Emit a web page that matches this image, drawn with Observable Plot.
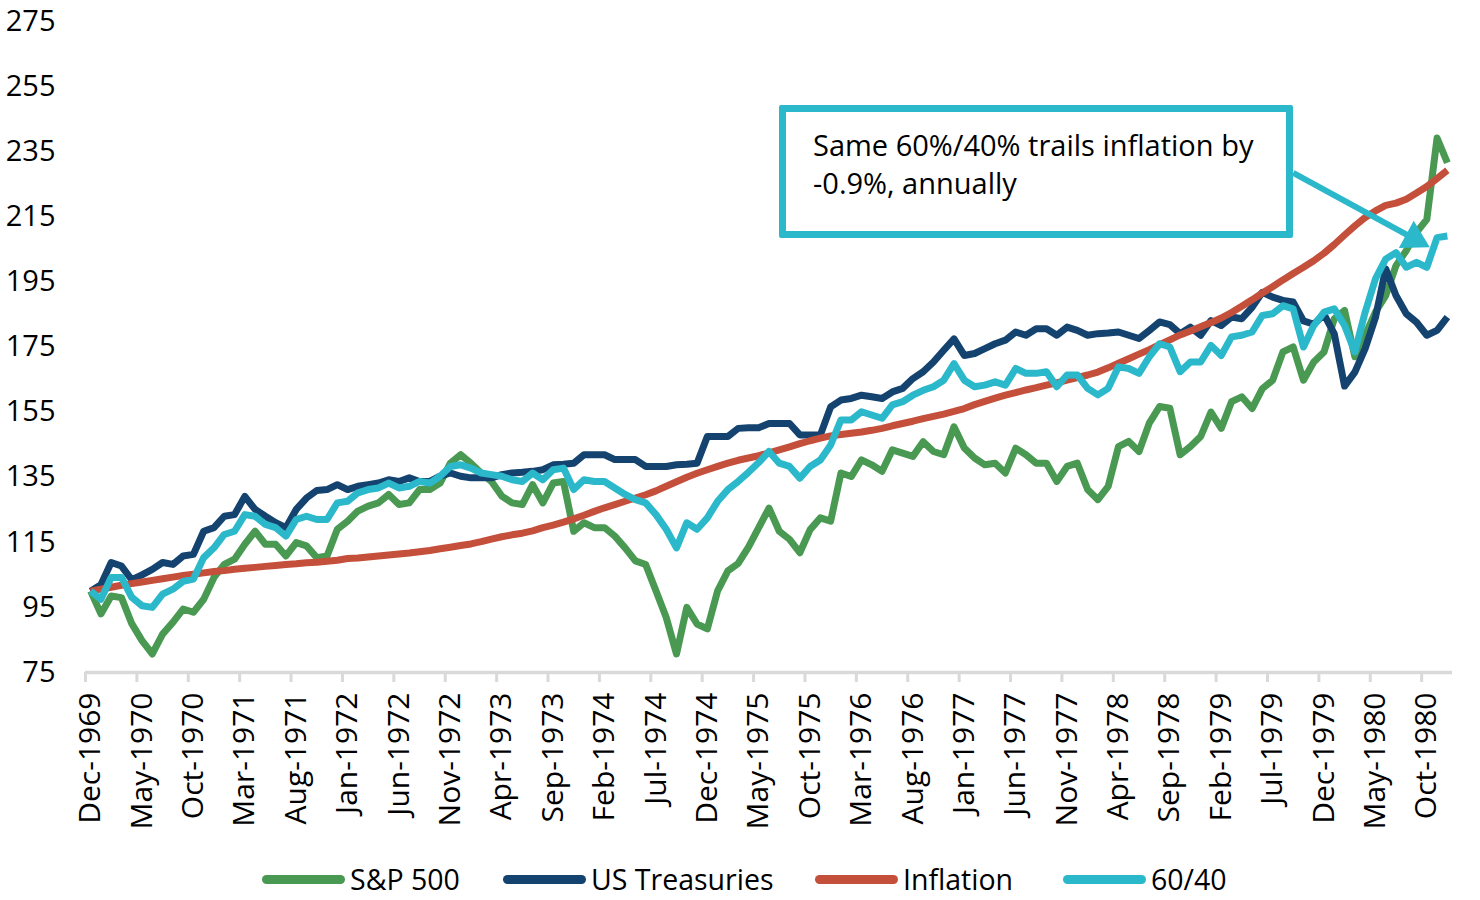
<!DOCTYPE html>
<html><head><meta charset="utf-8">
<script src="https://cdn.jsdelivr.net/npm/d3@7"></script>
<script src="https://cdn.jsdelivr.net/npm/@observablehq/plot@0.6"></script>
<style>
body{margin:0;background:#fff;font-family:"Open Sans",sans-serif;}
#wrap{position:relative;width:1480px;height:900px;}
#note{position:absolute;left:779px;top:105px;width:514px;height:133px;box-sizing:border-box;border:7px solid #2bb8cb;border-radius:2px;background:#fff;padding:14px 0 0 27px;font-size:29px;line-height:38px;color:#000;}
#legend{position:absolute;left:262px;top:859px;display:flex;font-size:28.5px;line-height:40px;color:#000;}
.item{display:flex;align-items:center;white-space:nowrap;}
.item:nth-child(1){width:241px;}
.item:nth-child(2){width:312px;}
.item:nth-child(3){width:248px;}
.sw{width:83px;height:9px;border-radius:5px;margin-right:5px;flex:none;}
</style></head><body>
<div id="wrap"><div id="chart"></div><div id="note"></div><div id="legend"></div></div>
<script>
// Monthly index values, Dec-1969 = 100, through Dec-1980 (133 months)
const sp500 = [100,93,98.5,98,90,84.8,80.7,86.8,90.4,94.5,93.5,97.5,104.2,108.2,109.8,114.4,118.4,114.4,114.4,110.8,
114.9,113.9,110.3,110.8,119,121.5,124.6,126.1,127.1,129.7,126.6,127.1,131.2,131.2,133.2,139.3,141.9,139.3,136.3,133.7,
129.2,127.1,126.6,132.7,127.1,133.2,133.7,118.4,121,119.5,119.5,116.9,113.3,109.3,108.2,100.1,91.9,80.7,95,89.9,
88.4,100.1,106.2,108.5,113.5,119.5,125.5,118.4,115.9,111.8,118.9,122.5,121.5,136.3,135.2,140.3,138.8,136.8,143.4,142.4,
141.4,145.9,142.9,141.9,150.5,144,140.9,138.8,139.3,136.3,143.9,141.9,139.3,139.3,133.7,138.3,139.3,131.2,128.1,132.2,
144.4,146,142.9,151.6,156.7,156.2,141.9,144.4,147.5,155,150,158.2,159.7,156.1,162.2,164.8,173.5,175,164.8,170.4,
173.5,183.7,186.2,172,178.6,185.7,190.8,200,204.6,210.2,214.2,239.2,231.6];
const treasuries = [100,102,108.8,107.7,103.5,105,106.7,108.8,108.2,110.8,111.3,118.4,119.5,123,123.5,129.1,125.1,123,121,119.5,
125.1,128.6,130.9,131.2,132.7,131.2,132.2,132.7,133.2,134.2,133.7,134.8,133.7,133.7,135.3,136.3,135.3,134.8,134.8,134.8,
135.8,136.3,136.5,136.8,137.3,138.8,139,139.3,141.9,141.9,141.9,140.4,140.4,140.4,138.3,138.3,138.3,138.8,139,139.3,
147.5,147.5,147.5,150,150.2,150.2,151.5,151.5,151.5,148,148,148,156.6,158.7,159.2,160.2,159.7,159.2,161.2,162.3,
165.3,167.4,170.4,174,177.5,172.4,173,174.5,176,177.1,179.6,178.6,180.6,180.6,178.6,181.1,180.1,178.6,179.1,179.3,
179.6,178.6,177.6,180.1,182.7,181.9,179.1,181.1,178.6,183.1,181.6,184.2,183.7,187.2,191.8,190.3,189.3,188.8,183,182,
185,179,163,167.3,174.5,184,199,190.8,185.2,182.6,178.6,180.1,184.2];
const inflation = [100,100.6,101.2,101.8,102.3,102.8,103.3,103.8,104.3,104.8,105.2,105.6,106,106.3,106.7,107,107.3,107.6,107.9,108.2,
108.4,108.7,108.9,109.2,109.5,110,110.2,110.5,110.8,111.1,111.4,111.7,112.1,112.5,113,113.5,114,114.5,115.2,116,
116.7,117.3,117.8,118.5,119.5,120.3,121.2,122.2,123.3,124.5,125.6,126.6,127.6,128.6,129.6,130.8,132.2,133.6,135,136.2,
137.3,138.3,139.3,140.2,140.9,141.6,142.5,143.4,144.3,145.3,146.2,147,147.7,148.1,148.5,148.9,149.4,150,150.8,151.5,
152.2,153,153.7,154.4,155.2,156.1,157.3,158.3,159.3,160.2,161,161.8,162.5,163.3,164,164.8,165.6,166.4,167.3,168.6,
170,171.4,172.8,174.2,175.7,177.2,178.7,179.9,181.2,182.5,183.9,185.6,187.5,189.5,191.6,193.5,195.6,197.6,199.5,201.5,
203.8,206.5,209.4,212.2,214.8,216.8,218.5,219.2,220.4,222.3,224.3,226.8,229.3];
const sixtyForty = [100,97.5,104.2,104.2,98.1,95.5,95,99.1,100.6,103,103.7,110.3,113.3,117.4,118.4,123.5,123,120.5,119.5,116.9,
122,123,122,122,127.1,127.6,130.2,131.2,131.7,133.2,131.7,132.2,133.7,133.2,135.3,138.3,138.8,137.8,136.3,135.8,
135.3,134.2,133.7,136.3,134.2,137.3,137.8,131.2,134.2,133.7,133.7,131.7,129.7,128.1,127.1,123.5,119,113.3,121,119,
122.5,127.6,131.2,133.7,136.5,139.5,142.9,139.3,138.3,134.7,138.3,140.3,144.9,152.6,152.6,155.1,154.1,153.1,157.2,158.2,
160.2,161.7,162.8,164.8,169.9,164.8,162.8,163.3,164.3,163.3,168.4,166.9,166.9,167.4,162.8,166.4,166.4,162.3,160.3,162.3,
168.9,168.4,166.9,172,176,175,167.4,170.4,170.4,175.5,172.4,178.1,178.6,179.6,184.7,185.2,187.7,186.7,175,181.6,
185.7,186.7,181.6,173.5,185.7,195.9,202,204,199.5,201,199.5,208.6,209.1];

const seriesNames = ["S&P 500","US Treasuries","Inflation","60/40"];
const seriesColors = ["#4a9953","#14436f","#c4503c","#2bb8cb"];
const seriesValues = [sp500, treasuries, inflation, sixtyForty];

const tickLabels = ["Dec-1969","May-1970","Oct-1970","Mar-1971","Aug-1971","Jan-1972","Jun-1972","Nov-1972","Apr-1973",
"Sep-1973","Feb-1974","Jul-1974","Dec-1974","May-1975","Oct-1975","Mar-1976","Aug-1976","Jan-1977","Jun-1977",
"Nov-1977","Apr-1978","Sep-1978","Feb-1979","Jul-1979","Dec-1979","May-1980","Oct-1980"];
const tickIndex = tickLabels.map((_, i) => i * 5);
const tickBoundaries = tickIndex.map(i => i - 0.5);
const yTicks = [75,95,115,135,155,175,195,215,235,255,275];

const annotationLines = ["Same 60%/40% trails inflation by","-0.9%, annually"];
const arrowStart = {m: 117.0, v: 228.5};
const arrowTip = {m: 130.3, v: 205.6};

const n = sp500.length;
const lineMarks = seriesValues.map((vals, k) =>
  Plot.line(vals.map((v, m) => ({m, v})), {x: "m", y: "v", stroke: seriesColors[k], strokeWidth: 7, strokeLinejoin: "round", strokeLinecap: "butt"})
);

const cyan = seriesColors[3];
const ang = Math.atan2(74, 135);
const neck = {m: arrowTip.m - 14 * Math.cos(ang) / 10.28, v: arrowTip.v + 14 * Math.sin(ang) / 3.26};

const chart = Plot.plot({
  width: 1480, height: 850,
  marginLeft: 85, marginRight: 28, marginTop: 21, marginBottom: 178,
  x: {domain: [-0.5, n - 0.5]},
  y: {domain: [75, 275]},
  style: {fontFamily: "Open Sans", fontSize: "28px", color: "#000", background: "white", overflow: "visible"},
  marks: [
    Plot.axisY(yTicks, {tickSize: 0, tickPadding: 30, fontSize: 29, label: null}),
    Plot.ruleY([75], {stroke: "#d9d9d9", strokeWidth: 3.5}),
    Plot.axisX(tickBoundaries, {tickSize: 10, stroke: "#d9d9d9", strokeWidth: 3, tickFormat: () => "", label: null}),
    Plot.axisX(tickIndex, {tickSize: 0, tickPadding: 20, tickRotate: -90, fontSize: 30, label: null,
      tickFormat: d => tickLabels[tickIndex.indexOf(d)]}),
    ...lineMarks,
    Plot.link([{a: arrowStart, b: neck}], {x1: d => d.a.m, y1: d => d.a.v, x2: d => d.b.m, y2: d => d.b.v, stroke: cyan, strokeWidth: 6}),
    Plot.dot([arrowTip], {x: "m", y: "v", symbol: "triangle", r: 11.5, fill: cyan, stroke: "none",
      rotate: 90 + ang * 180 / Math.PI, dx: -18 * Math.cos(ang), dy: -18 * Math.sin(ang)})
  ]
});
document.getElementById("chart").appendChild(chart);

document.getElementById("note").innerHTML = annotationLines.map(t => `<div>${t}</div>`).join("");

const legend = document.getElementById("legend");
seriesNames.forEach((name, k) => {
  const it = document.createElement("div");
  it.className = "item";
  it.innerHTML = `<span class="sw" style="background:${seriesColors[k]}"></span><span>${name.replace("&","&amp;")}</span>`;
  legend.appendChild(it);
});
</script>
</body></html>
